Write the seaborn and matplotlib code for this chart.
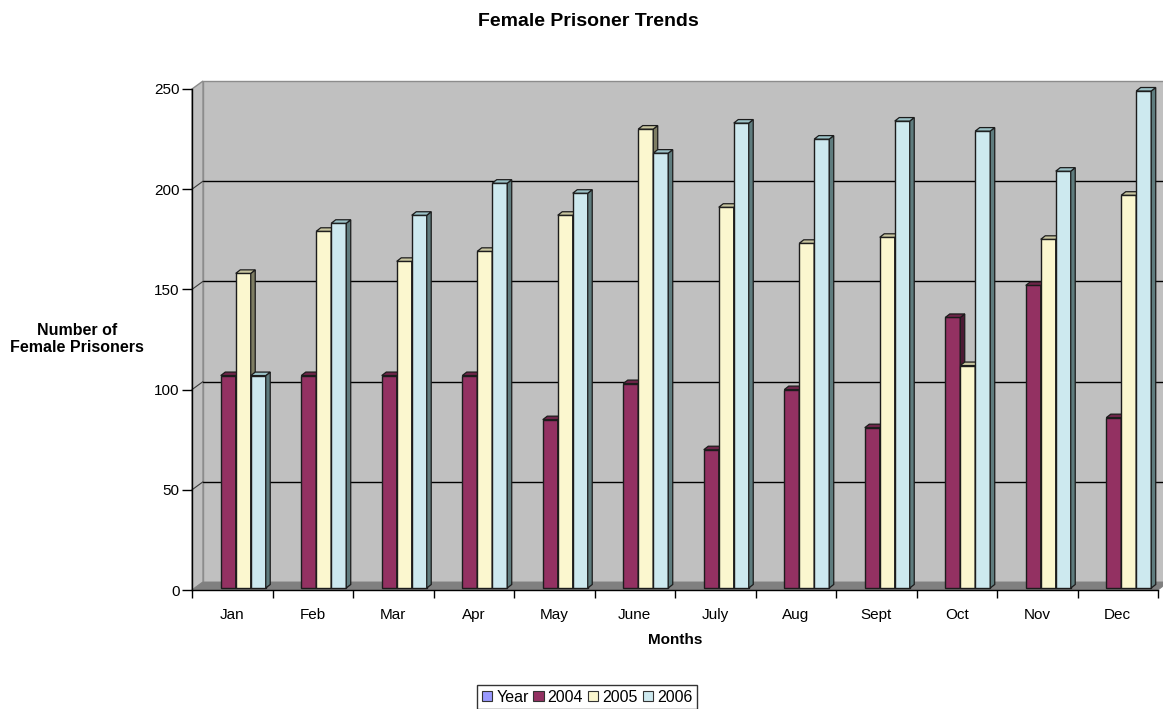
import numpy as np
import pandas as pd
import matplotlib
matplotlib.use("Agg")
import matplotlib.pyplot as plt
import seaborn as sns
from matplotlib.patches import Polygon, Patch, Rectangle
from matplotlib.lines import Line2D
from matplotlib.transforms import IdentityTransform, offset_copy

# ---- data -------------------------------------------------------------
months = ["Jan", "Feb", "Mar", "Apr", "May", "June",
          "July", "Aug", "Sept", "Oct", "Nov", "Dec"]
series_names = ["Year", "2004", "2005", "2006"]
y2004 = [106, 106, 106, 106, 84, 102, 69, 99, 80, 135, 151, 85]
y2005 = [157, 178, 163, 168, 186, 229, 190, 172, 175, 111, 174, 196]
y2006 = [106, 182, 186, 202, 197, 217, 232, 224, 233, 228, 208, 248]
y_ticks = [0, 50, 100, 150, 200, 250]

df = pd.DataFrame({
    "Month": months * 3,
    "Series": ["2004"] * 12 + ["2005"] * 12 + ["2006"] * 12,
    "Prisoners": y2004 + y2005 + y2006,
})

# ---- colours ----------------------------------------------------------
face = {"Year": "#9999FF", "2004": "#933162", "2005": "#FBF7CF", "2006": "#CDE9EF"}
side = {"2004": "#4C1934", "2005": "#7E7D63", "2006": "#5F7C7E"}
top = {"2004": "#6E2549", "2005": "#C9C6A0", "2006": "#9CC3C8"}
EDGE = "#1c1c1c"
WALL = "#C0C0C0"
FLOOR = "#808080"

sns.set_theme(style="white")
plt.rcParams["font.family"] = ["Liberation Sans", "DejaVu Sans"]
plt.rcParams.update({"text.color": "black", "axes.labelcolor": "black",
                     "xtick.color": "black", "ytick.color": "black"})

W, H = 1163, 709
fig = plt.figure(figsize=(W / 100, H / 100), dpi=100)
ax = fig.add_axes([192 / W, 1 - 590 / H, 966 / W, 501 / H])
ax.set_facecolor("none")

sns.barplot(data=df, x="Month", y="Prisoners", hue="Series",
            order=months, hue_order=series_names, palette=face,
            width=0.745, dodge=True, errorbar=None, saturation=1,
            edgecolor=EDGE, linewidth=1.0, legend=False, ax=ax)

ax.set_xlim(-0.5, len(months) - 0.5)
ax.set_ylim(0, 250)

# the bar rectangles drawn by seaborn, left to right
bars = [p for p in ax.patches
        if isinstance(p, Rectangle) and np.isfinite(p.get_height()) and p.get_height() > 0]
bars.sort(key=lambda p: p.get_x())

# ---- pseudo 3-D frame (walls, floor, gridlines) -----------------------
WD = np.array([11.0, 8.0])      # depth of the walls in pixels
BS = np.array([3.5, 2.0])       # bars sit slightly behind the front plane
BD = np.array([4.5, 3.5])       # depth of each bar
ident = IdentityTransform()


def px(x, y):
    return ax.transData.transform((x, y))


x0, x1 = -0.5, len(months) - 0.5
ymax = y_ticks[-1]

left_wall = [px(x0, 0), px(x0, ymax), px(x0, ymax) + WD, px(x0, 0) + WD]
back_wall = [px(x0, 0) + WD, px(x1, 0) + WD, px(x1, ymax) + WD, px(x0, ymax) + WD]
floor = [px(x0, 0), px(x1, 0), px(x1, 0) + WD, px(x0, 0) + WD]

for verts, fc, z in [(back_wall, WALL, 0.1), (left_wall, WALL, 0.2)]:
    ax.add_artist(Polygon(verts, closed=True, facecolor=fc, edgecolor="#8c8c8c",
                          linewidth=1.0, transform=ident, clip_on=False, zorder=z))

for v in y_ticks[1:-1]:
    a, b = px(x0, v) + WD, px(x1, v) + WD
    ax.add_artist(Line2D([a[0], b[0]], [a[1], b[1]], color="black", lw=1.0,
                         transform=ident, clip_on=False, zorder=0.3))
    c = px(x0, v)
    ax.add_artist(Line2D([c[0], a[0]], [c[1], a[1]], color="#3a3a3a", lw=0.8,
                         transform=ident, clip_on=False, zorder=0.3))

ax.add_artist(Polygon(floor, closed=True, facecolor=FLOOR, edgecolor=FLOOR,
                      linewidth=0.5, transform=ident, clip_on=False, zorder=0.4))

# ---- extrude the seaborn bars -------------------------------------------
shifted = offset_copy(ax.transData, fig=fig, x=BS[0], y=BS[1], units="dots")
hex_to_name = {matplotlib.colors.to_hex(c): n for n, c in face.items()}
for i, p in enumerate(bars):
    key = hex_to_name[matplotlib.colors.to_hex(p.get_facecolor())]
    z = 2 + i * 0.01
    p.set_transform(shifted)
    p.set_clip_on(False)
    p.set_zorder(z)
    x, w, h = p.get_x(), p.get_width(), p.get_height()
    br = px(x + w, 0) + BS
    tl = px(x, h) + BS
    tr = px(x + w, h) + BS
    side_face = [br, tr, tr + BD, br + BD]
    top_face = [tl, tr, tr + BD, tl + BD]
    ax.add_artist(Polygon(side_face, closed=True, facecolor=side[key], edgecolor=EDGE,
                          linewidth=0.9, transform=ident, clip_on=False, zorder=z + 0.001))
    ax.add_artist(Polygon(top_face, closed=True, facecolor=top[key], edgecolor=EDGE,
                          linewidth=0.9, transform=ident, clip_on=False, zorder=z + 0.002))

# ---- axes styling -------------------------------------------------------
for s in ["top", "right"]:
    ax.spines[s].set_visible(False)
for s in ["left", "bottom"]:
    ax.spines[s].set_color("black")
    ax.spines[s].set_linewidth(1.0)
    ax.spines[s].set_zorder(5)

ax.set_yticks(y_ticks)
ax.set_yticklabels([str(t) for t in y_ticks], fontsize=11)
ax.set_xticks(np.arange(len(months) + 1) - 0.5)
ax.set_xticklabels([])
ax.set_xticks(np.arange(len(months)), minor=True)
ax.set_xticklabels(months, minor=True, fontsize=11)
ax.tick_params(axis="y", which="major", direction="out", length=7, width=1,
               color="black", pad=2, left=True)
ax.tick_params(axis="x", which="major", direction="out", length=6, width=1,
               color="black", bottom=True)
ax.tick_params(axis="x", which="minor", length=0, pad=13, bottom=True)
ax.grid(False)

ax.set_xlabel("Months", fontsize=11, fontweight="bold", labelpad=8)
ax.set_ylabel("")
fig.text(77 / W, 1 - 339 / H, "Number of\nFemale Prisoners", ha="center", va="center",
         fontsize=11.5, fontweight="bold", linespacing=1.2)
fig.text(588 / W, 1 - 21 / H, "Female Prisoner Trends", ha="center", va="center",
         fontsize=14, fontweight="bold")

handles = [Patch(facecolor=face[n], edgecolor="#333333", linewidth=0.8) for n in series_names]
leg = fig.legend(handles, series_names, loc="center", bbox_to_anchor=(587 / W, 1 - 697 / H),
                 ncol=4, frameon=True, fancybox=False, fontsize=11.5,
                 handlelength=0.65, handleheight=0.65, handletextpad=0.25,
                 columnspacing=0.3, borderpad=0.3, borderaxespad=0)
leg.get_frame().set_edgecolor("black")
leg.get_frame().set_linewidth(1.0)

fig.savefig("out.png", dpi=100, facecolor="white")
